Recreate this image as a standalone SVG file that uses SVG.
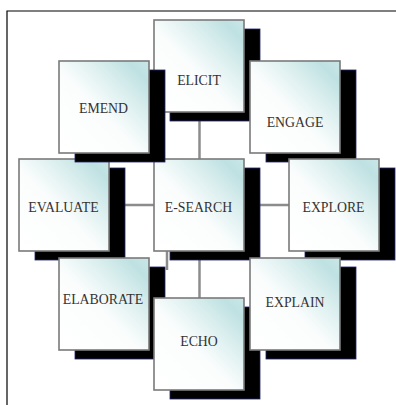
<svg xmlns="http://www.w3.org/2000/svg" width="396" height="405" viewBox="0 0 396 405">
<defs>
<linearGradient id="fill" x1="0" y1="1" x2="1" y2="0">
<stop offset="0" stop-color="#ffffff"/>
<stop offset="0.45" stop-color="#fbfdfd"/>
<stop offset="0.7" stop-color="#daeeee"/>
<stop offset="0.88" stop-color="#bfe1e2"/>
<stop offset="1" stop-color="#c9e7e7"/>
</linearGradient>
</defs>
<style>
.sh{fill:#000000;stroke:#22226e;stroke-width:0.8}
.bx{fill:url(#fill);stroke:#7a7a7a;stroke-width:1.6}
.tx{font-family:"Liberation Serif","Times New Roman",serif;font-size:13.8px;fill:#333333;text-anchor:middle}
.cn{stroke:#8c8c8c;stroke-width:2.5;fill:none}
.fr{stroke:#000000;stroke-width:1.2;fill:none}
</style>
<rect width="396" height="405" fill="#ffffff"/>
<g id="frame">
<path class="fr" d="M7,405 V11 H396"/>
</g>
<g id="connectors">
<line class="cn" x1="199.5" y1="112" x2="199.5" y2="159"/>
<line class="cn" x1="110" y1="205" x2="154" y2="205"/>
<line class="cn" x1="244" y1="205" x2="289" y2="205"/>
<line class="cn" x1="199.5" y1="251" x2="199.5" y2="298"/>
<line class="cn" x1="167" y1="251" x2="167" y2="270"/>
</g>
<g id="elicit">
<rect class="sh" x="170" y="29" width="90" height="92"/>
<rect class="bx" x="154" y="20" width="90" height="92"/>
<text class="tx" x="199" y="85">ELICIT</text>
</g>
<g id="e-search">
<rect class="sh" x="170" y="168" width="90" height="92"/>
<rect class="bx" x="154" y="159" width="90" height="92"/>
<text class="tx" x="198.5" y="211.5">E-SEARCH</text>
</g>
<g id="evaluate">
<rect class="sh" x="35" y="168" width="90" height="92"/>
<rect class="bx" x="19" y="159" width="90" height="92"/>
<text class="tx" x="63.5" y="211.5">EVALUATE</text>
</g>
<g id="emend">
<rect class="sh" x="75" y="70" width="90" height="92"/>
<rect class="bx" x="59" y="61" width="90" height="92"/>
<text class="tx" x="103.5" y="113">EMEND</text>
</g>
<g id="engage">
<rect class="sh" x="266" y="70" width="90" height="92"/>
<rect class="bx" x="250" y="61" width="90" height="92"/>
<text class="tx" x="295" y="127">ENGAGE</text>
</g>
<g id="explore">
<rect class="sh" x="305" y="168" width="90" height="92"/>
<rect class="bx" x="289" y="159" width="90" height="92"/>
<text class="tx" x="333.5" y="211.5">EXPLORE</text>
</g>
<g id="elaborate">
<rect class="sh" x="75" y="267" width="90" height="92"/>
<rect class="bx" x="59" y="258" width="90" height="92"/>
<text class="tx" x="103" y="304">ELABORATE</text>
</g>
<g id="echo">
<rect class="sh" x="170" y="307" width="90" height="92"/>
<rect class="bx" x="154" y="298" width="90" height="92"/>
<text class="tx" x="199" y="345.5">ECHO</text>
</g>
<g id="explain">
<rect class="sh" x="266" y="267" width="90" height="92"/>
<rect class="bx" x="250" y="258" width="90" height="92"/>
<text class="tx" x="295" y="307">EXPLAIN</text>
</g>
</svg>
